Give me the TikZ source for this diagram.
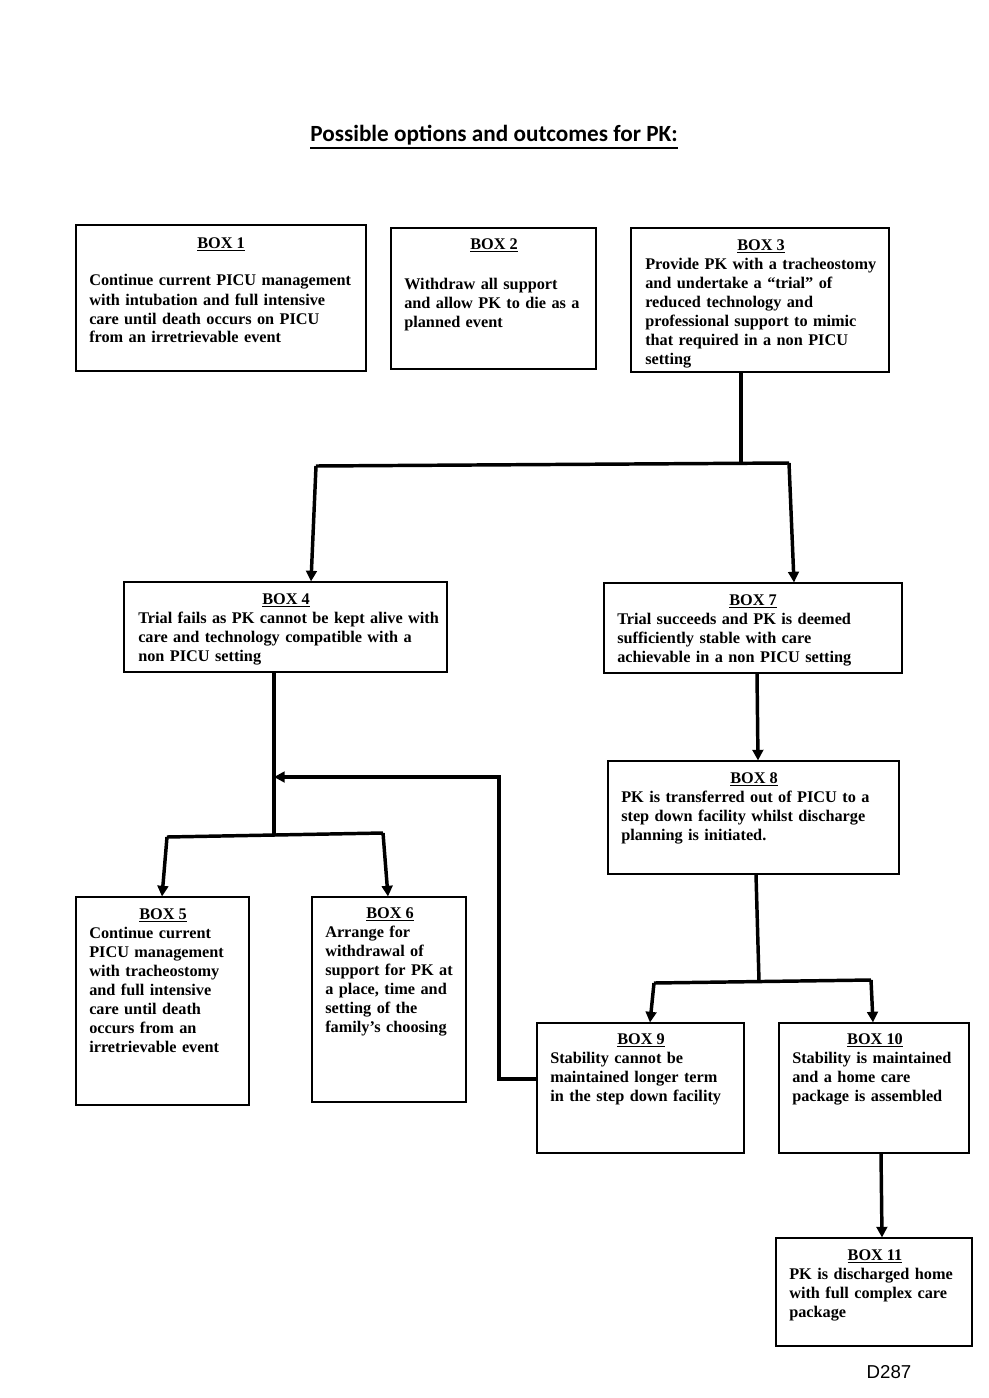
\documentclass[tikz,border=0pt]{standalone}
\usepackage{fontspec}
\setmainfont{Liberation Serif}
\newfontfamily\titlefont{Carlito}
\newfontfamily\labelfont{Liberation Sans}
\newcommand\myul[1]{\setbox0\hbox{#1}\rlap{\rule[-2.2pt]{\wd0}{1pt}}\box0}
\usetikzlibrary{arrows.meta,fit,calc}
\begin{document}
\begin{tikzpicture}[x=0.75pt,y=-0.75pt,
  boxst/.style={draw=black,line width=0.8pt,inner sep=0pt},
  ttl/.style={anchor=base,inner sep=0pt,font=\fontsize{12.2}{14.25}\selectfont\bfseries},
  bodyst/.style={anchor=base west,inner sep=0pt,text width=320pt,align=left,font=\fontsize{12.2}{14.25}\selectfont\bfseries},
  conn/.style={line width=2.6pt,line join=miter},
  arr/.style={line width=2.6pt,-{Triangle[width=8pt,length=8pt]}}
]
\useasboundingbox (0,0) rectangle (988,1398);
\fill[white] (0,0) rectangle (988,1398);

% title
\node[anchor=base,inner sep=0pt,font=\titlefont\fontsize{17.4}{20}\selectfont\bfseries] (title) at (494,142)
  {Possible options and outcomes for PK:};
\draw[line width=1.5pt] ($(title.south west)+(0,2)$) -- ($(title.south east)+(0,2)$);

% boxes
\node[boxst,fit={(76,225) (366,371)}] (b1) {};
\node[boxst,fit={(391,228) (596,369)}] (b2) {};
\node[boxst,fit={(631,228) (889,372)}] (b3) {};
\node[boxst,fit={(124,582) (447,672)}] (b4) {};
\node[boxst,fit={(604,583) (902,673)}] (b7) {};
\node[boxst,fit={(608,761) (899,874)}] (b8) {};
\node[boxst,fit={(76,897) (249,1105)}] (b5) {};
\node[boxst,fit={(312,897) (466,1102)}] (b6) {};
\node[boxst,fit={(537,1023) (744,1153)}] (b9) {};
\node[boxst,fit={(779,1023) (969,1153)}] (b10) {};
\node[boxst,fit={(776,1238) (972,1346)}] (b11) {};

% texts
\node[ttl] (t1) at (221,248) {\myul{BOX 1}};
\node[bodyst] (x1) at (89,286) {Continue current PICU management\\ with intubation and full intensive\\ care until death occurs on PICU\\ from an irretrievable event};
\node[ttl] (t2) at (494,249) {\myul{BOX 2}};
\node[bodyst] (x2) at (404,289) {Withdraw all support\\ and allow PK to die as a\\ planned event};
\node[ttl] (t3) at (761,250) {\myul{BOX 3}};
\node[bodyst] (x3) at (645,269) {Provide PK with a tracheostomy\\ and undertake a “trial” of\\ reduced technology and\\ professional support to mimic\\ that required in a non PICU\\ setting};
\node[ttl] (t4) at (286,604) {\myul{BOX 4}};
\node[bodyst] (x4) at (138,623) {Trial fails as PK cannot be kept alive with\\ care and technology compatible with a\\ non PICU setting};
\node[ttl] (t7) at (753,605) {\myul{BOX 7}};
\node[bodyst] (x7) at (617,624) {Trial succeeds and PK is deemed\\ sufficiently stable with care\\ achievable in a non PICU setting};
\node[ttl] (t8) at (754,783) {\myul{BOX 8}};
\node[bodyst] (x8) at (621,802) {PK is transferred out of PICU to a\\ step down facility whilst discharge\\ planning is initiated.};
\node[ttl] (t5) at (163,919) {\myul{BOX 5}};
\node[bodyst] (x5) at (89,938) {Continue current\\ PICU management\\ with tracheostomy\\ and full intensive\\ care until death\\ occurs from an\\ irretrievable event};
\node[ttl] (t6) at (390,918) {\myul{BOX 6}};
\node[bodyst] (x6) at (325,937) {Arrange for\\ withdrawal of\\ support for PK at\\ a place, time and\\ setting of the\\ family’s choosing};
\node[ttl] (t9) at (641,1044) {\myul{BOX 9}};
\node[bodyst] (x9) at (550,1063) {Stability cannot be\\ maintained longer term\\ in the step down facility};
\node[ttl] (t10) at (875,1044) {\myul{BOX 10}};
\node[bodyst] (x10) at (792,1063) {Stability is maintained\\ and a home care\\ package is assembled};
\node[ttl] (t11) at (875,1260) {\myul{BOX 11}};
\node[bodyst] (x11) at (789,1279) {PK is discharged home\\ with full complex care\\ package};

\node[anchor=base,inner sep=0pt,font=\labelfont\fontsize{14}{16}\selectfont] (code) at (889,1378) {D287};

% junction coordinates
\coordinate (j3) at (741,464);
\coordinate (j3l) at (316,466);
\coordinate (j3r) at (789,463);
\coordinate (j4) at (274,835);
\coordinate (j4l) at (167,837);
\coordinate (j4r) at (383,833);
\coordinate (j4in) at (274,777);
\coordinate (r1) at (499,1079);
\coordinate (r2) at (499,777);
\coordinate (r3) at (300,777);
\coordinate (j8) at (759,981);
\coordinate (j8l) at (654,983);
\coordinate (j8r) at (871,980);

% connectors
\draw[conn] ($(b3.south)+(-19,0)$) -- (j3);
\draw[conn] (j3l) -- (j3r);
\draw[arr] (j3l) -- ($(b4.north)+(25.5,0)$);
\draw[arr] (j3r) -- ($(b7.north)+(41,0)$);

\draw[conn] ($(b4.south)+(-11.5,0)$) -- (j4);
\draw[conn] (j4l) -- (j4r);
\draw[arr] (j4l) -- ($(b5.north)+(-0.5,0)$);
\draw[arr] (j4r) -- ($(b6.north)+(-1,0)$);

\draw[conn] (b9.west |- r1) -- (r1) -- (r2) -- (r3);
\draw[arr] (r3) -- (j4in);

\draw[arr] ($(b7.south)+(4,0)$) -- ($(b8.north)+(4.5,0)$);
\draw[conn] ($(b8.south)+(2.5,0)$) -- (j8);
\draw[conn] (j8l) -- (j8r);
\draw[arr] (j8l) -- ($(b9.north)+(9.5,0)$);
\draw[arr] (j8r) -- ($(b10.north)+(-1,0)$);
\draw[arr] ($(b10.south)+(7,0)$) -- ($(b11.north)+(8,0)$);
\end{tikzpicture}
\end{document}
